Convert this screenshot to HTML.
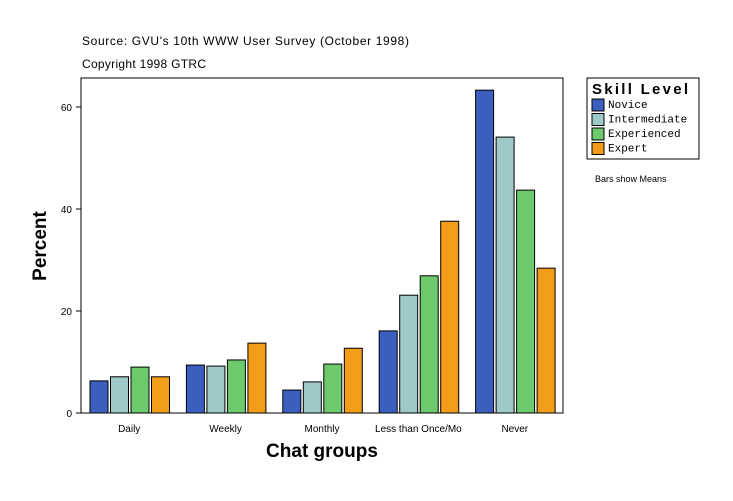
<!DOCTYPE html>
<html><head><meta charset="utf-8"><style>
body{margin:0;background:#fff;width:733px;height:496px;overflow:hidden}
svg text{font-family:"Liberation Sans",sans-serif}
svg text.mono{font-family:"Liberation Mono",monospace}
</style></head><body>
<svg width="733" height="496">
<text x="82" y="45" font-size="12" textLength="327">Source: GVU's 10th WWW User Survey (October 1998)</text>
<text x="82" y="68" font-size="12" textLength="124">Copyright 1998 GTRC</text>
<rect x="81" y="78" width="482" height="335" fill="#fff" stroke="#000"/>
<g id="bars"></g><g id="axes"></g>
<text x="46" y="246" font-size="19" font-weight="bold" transform="rotate(-90 46 246)" text-anchor="middle">Percent</text>
<text x="322" y="457" font-size="19" font-weight="bold" text-anchor="middle">Chat groups</text>
<g>
<rect x="587" y="78" width="112" height="81" fill="#fff" stroke="#000"/>
<text x="592" y="94" font-size="15" font-weight="bold" textLength="96">Skill Level</text>
<g id="legend"></g></g>
<text x="595" y="182" font-size="9">Bars show Means</text>
</svg>
<script>
const categories=["Daily","Weekly","Monthly","Less than Once/Mo","Never"];
const seriesNames=["Novice","Intermediate","Experienced","Expert"];
const novice=[6.3,9.4,4.5,16.1,63.3];
const intermediate=[7.1,9.2,6.1,23.1,54.1];
const experienced=[9.0,10.4,9.6,26.9,43.7];
const expert=[7.1,13.7,12.7,37.6,28.4];
const yTicks=[0,20,40,60];
const colors=["#3a5fbf","#9fc8c8","#6cc96c","#f39c19"];
const series=[novice,intermediate,experienced,expert];
const NS="http://www.w3.org/2000/svg";
const y=v=>413-v*5.1;
const x0=81,gw=96.4;
function mk(t,a,p){const e=document.createElementNS(NS,t);for(const k in a)e.setAttribute(k,a[k]);p.appendChild(e);return e;}
const bars=document.getElementById('bars'),axes=document.getElementById('axes'),leg=document.getElementById('legend');
categories.forEach((c,i)=>{
 const gx=x0+i*gw+9;
 series.forEach((s,j)=>{
  const r=mk('rect',{x:gx+j*20.5,y:y(s[i]),width:18,height:413-y(s[i]),fill:colors[j],stroke:'#000','stroke-width':1},bars);
  
  
 });
 const t=mk('text',{x:x0+i*gw+gw/2,y:432,'font-size':10,'text-anchor':'middle'},axes);t.textContent=c;
 
 
});
yTicks.forEach(v=>{
 mk('line',{x1:76,x2:81,y1:y(v),y2:y(v),stroke:'#000'},axes);
 const t=mk('text',{x:72,y:y(v)+4,'font-size':10,'text-anchor':'end'},axes);t.textContent=v;
 
 
});
seriesNames.forEach((n,j)=>{
 const r=mk('rect',{x:592,y:99+j*14.5,width:12,height:12,fill:colors[j],stroke:'#000'},leg);
 
 
 const t=mk('text',{x:608,y:108+j*14.5,'font-size':11,'class':'mono'},leg);t.textContent=n;
 
 
});
</script>
</body></html>
